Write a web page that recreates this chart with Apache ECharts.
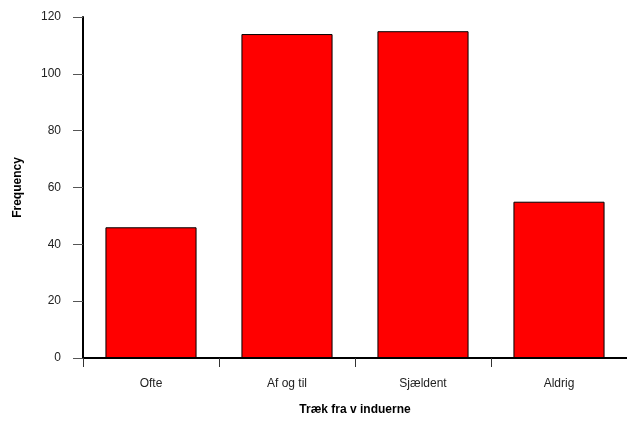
<!DOCTYPE html>
<html>
<head>
<meta charset="utf-8">
<script src="https://cdn.jsdelivr.net/npm/echarts@6/dist/echarts.min.js"></script>
<style>html,body{margin:0;padding:0;background:#fff;}#c{width:627px;height:421px;}</style>
</head>
<body>
<div id="c"></div>
<script>
const categories = ['Ofte', 'Af og til', 'Sjældent', 'Aldrig'];
const frequencies = [46, 114, 115, 55];
const yTicks = [0, 20, 40, 60, 80, 100, 120];

const chart = echarts.init(document.getElementById('c'), null, {renderer: 'canvas'});
chart.setOption({
  animation: false,
  backgroundColor: '#ffffff',
  grid: {left: 83, top: 17, width: 550, height: 344, containLabel: false},
  xAxis: {
    type: 'category',
    data: categories,
    name: 'Træk fra v induerne',
    nameLocation: 'middle',
    nameGap: 46,
    nameTextStyle: {fontFamily: 'Liberation Sans', fontSize: 12, fontWeight: 'bold', color: '#000'},
    axisLine: {lineStyle: {color: '#000', width: 2}},
    axisTick: {show: true, length: 9, lineStyle: {color: '#333', width: 1}},
    axisLabel: {fontFamily: 'Liberation Sans', fontSize: 12, color: '#222', margin: 20},
    splitLine: {show: false}
  },
  yAxis: {
    type: 'value',
    min: yTicks[0],
    max: yTicks[yTicks.length - 1],
    interval: yTicks[1] - yTicks[0],
    name: 'Frequency',
    nameLocation: 'middle',
    nameRotate: 90,
    nameGap: 59,
    nameTextStyle: {fontFamily: 'Liberation Sans', fontSize: 12, fontWeight: 'bold', color: '#000'},
    axisLine: {show: true, lineStyle: {color: '#000', width: 2}},
    axisTick: {show: true, length: 10, lineStyle: {color: '#555', width: 1}},
    axisLabel: {fontFamily: 'Liberation Sans', fontSize: 12, color: '#222', margin: 22},
    splitLine: {show: false}
  },
  series: [{
    type: 'bar',
    data: frequencies,
    barWidth: '67%',
    itemStyle: {color: '#ff0000', borderColor: '#000', borderWidth: 1}
  }]
});
</script>
</body>
</html>
